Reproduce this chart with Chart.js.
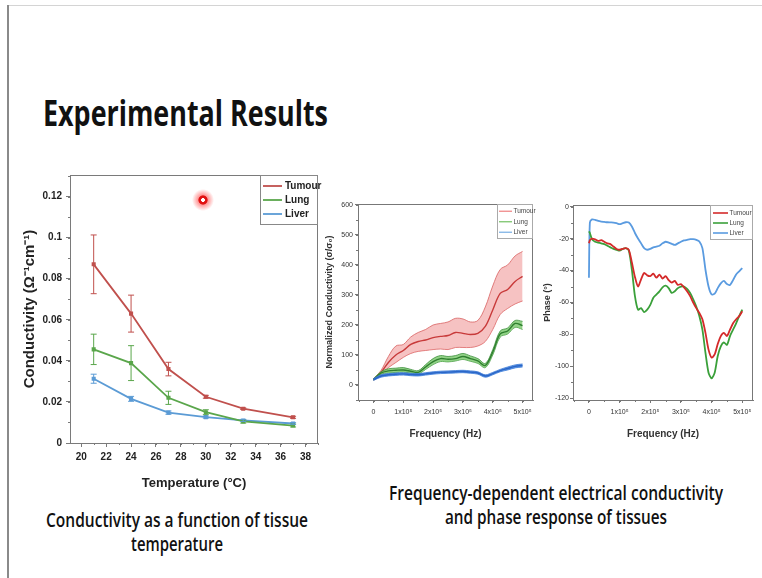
<!DOCTYPE html>
<html>
<head>
<meta charset="utf-8">
<script src="https://cdn.jsdelivr.net/npm/chart.js@4.4.0/dist/chart.umd.min.js"></script>
<style>
  html, body { margin: 0; padding: 0; background: #fff; }
  body { width: 762px; height: 578px; position: relative; overflow: hidden; font-family: "Open Sans", sans-serif; color: #111; }
  .edge-top { position: absolute; left: 8px; top: 5px; right: 0; height: 1px; background: #d4d4d4; }
  .edge-left { position: absolute; left: 7px; top: 5px; bottom: 0; width: 2px; background: #8a8a8a; }
  .txt { position: absolute; white-space: nowrap; line-height: 1; transform-origin: left top; }
  .title { font-size: 36px; font-weight: 700; }
  .cap { font-size: 19px; font-weight: 600; }
  .box { position: absolute; }
  .dot { position: absolute; left: 192px; top: 189px; width: 22px; height: 22px; border-radius: 50%;
         background: radial-gradient(circle, #fff 0 1.6px, #e01010 2.2px 4.2px, rgba(255,70,70,0.55) 5px, rgba(255,160,160,0) 11px); }
</style>
</head>
<body>
<div class="edge-top"></div>
<div class="edge-left"></div>

<div class="txt title" id="title" style="top:95px">Experimental Results</div>

<div class="box" style="left:10px; top:165px;"><canvas id="tempChart" width="320" height="330"></canvas></div>
<div class="box" style="left:320px; top:195px;"><canvas id="condChart" width="220" height="245"></canvas></div>
<div class="box" style="left:538px; top:195px;"><canvas id="phaseChart" width="224" height="245"></canvas></div>
<div class="dot"></div>

<div class="txt cap" id="cap1a" style="top:511px">Conductivity as a function of tissue</div>
<div class="txt cap" id="cap1b" style="top:535px">temperature</div>
<div class="txt cap" id="cap2a" style="top:484px">Frequency-dependent electrical conductivity</div>
<div class="txt cap" id="cap2b" style="top:508px">and phase response of tissues</div>

<script>
// ---- conductivity vs temperature ----
const tempC = [21, 24, 27, 30, 33, 37];
const tumourCond = [0.087, 0.063, 0.036, 0.0225, 0.0167, 0.0125];
const tumourErr = [0.0143, 0.009, 0.0033, 0.0007, 0.0004, 0.0005];
const lungCond = [0.0456, 0.0389, 0.022, 0.015, 0.0105, 0.0085];
const lungErr = [0.0074, 0.0085, 0.0032, 0.0012, 0.0008, 0.0007];
const liverCond = [0.0313, 0.0215, 0.0148, 0.0126, 0.011, 0.0095];
const liverErr = [0.0022, 0.0012, 0.0008, 0.0005, 0.0005, 0.0004];
const condTicks = [0, 0.02, 0.04, 0.06, 0.08, 0.1, 0.12];
const condTickLabels = ["0", "0.02", "0.04", "0.06", "0.08", "0.1", "0.12"];
const tempTicks = [20, 22, 24, 26, 28, 30, 32, 34, 36, 38];

// ---- normalized conductivity vs frequency ----
const condFreq = [0, 25000, 50000, 75000, 100000, 125000, 150000, 175000, 200000, 225000, 250000,
  275000, 300000, 325000, 350000, 375000, 400000, 425000, 450000, 475000, 500000];
const tumourNorm = [18, 42, 75, 100, 115, 135, 145, 150, 158, 162, 165, 175, 172, 168, 172, 195, 250, 305, 318, 345, 362];
const tumourNormHi = [20, 48, 95, 130, 135, 160, 175, 185, 200, 205, 210, 222, 220, 210, 215, 260, 330, 385, 400, 430, 445];
const tumourNormLo = [15, 36, 58, 75, 92, 105, 112, 115, 118, 120, 118, 125, 125, 125, 130, 145, 185, 235, 255, 270, 280];
const lungNorm = [18, 40, 47, 49, 50, 46, 42, 60, 78, 88, 86, 88, 95, 88, 80, 65, 110, 170, 180, 205, 198];
const lungNormHi = [20, 44, 54, 56, 58, 52, 48, 68, 88, 98, 95, 98, 105, 97, 88, 72, 118, 180, 190, 215, 212];
const lungNormLo = [16, 36, 40, 42, 43, 40, 37, 52, 68, 78, 77, 80, 85, 79, 72, 58, 100, 160, 170, 192, 185];
const liverNorm = [18, 30, 34, 36, 37, 35, 34, 37, 40, 42, 43, 44, 45, 43, 40, 30, 38, 48, 55, 62, 65];
const liverNormHi = [21, 34, 38, 40, 41, 39, 38, 41, 44, 46, 47, 48, 49, 47, 44, 34, 42, 52, 60, 67, 70];
const liverNormLo = [15, 26, 30, 32, 33, 31, 30, 33, 36, 38, 39, 40, 41, 39, 36, 26, 34, 44, 50, 57, 60];
const normTicks = [0, 100, 200, 300, 400, 500, 600];

// ---- phase vs frequency ----
const phaseFreq = [0, 3000, 10000, 20000, 30000, 40000, 50000, 60000, 70000, 80000, 90000,
  100000, 110000, 120000, 130000, 140000, 150000, 160000, 170000, 180000, 190000,
  200000, 210000, 220000, 230000, 240000, 250000, 260000, 270000, 280000, 290000,
  300000, 310000, 320000, 330000, 340000, 350000, 360000, 370000, 380000, 390000,
  400000, 410000, 420000, 430000, 440000, 450000, 460000, 470000, 480000, 490000, 500000];
const tumourPhase = [-23, -21, -20, -20.5, -21.5, -21, -22, -23, -23.5, -25, -26.5,
  -27, -26.5, -26, -27, -35, -44, -50, -45.5, -41.5, -43,
  -43.5, -42, -44.5, -42.5, -45, -43.5, -46, -47.5, -46.5, -49,
  -48.5, -50.5, -53, -56, -60, -63.5, -66.5, -70.5, -79, -89.5,
  -94.5, -92.5, -86, -81, -79, -81, -77, -73, -70.5, -68.5, -65.5];
const lungPhase = [-15.5, -16.5, -20.5, -22, -22.5, -23, -23.5, -24.5, -25.5, -26.5, -27,
  -27.5, -26.5, -26, -27.5, -39.5, -56, -64.5, -63.5, -66, -64.5,
  -61.5, -57, -55, -53, -50.5, -49.5, -51, -54, -53, -51,
  -50, -50, -51.5, -54, -58, -62.5, -68.5, -77, -91.5, -104,
  -107.5, -104, -93.5, -87.5, -85, -86.5, -81, -77, -73, -68.5, -64.5];
const liverPhase = [-44.5, -10, -8, -8.3, -9, -9.4, -9.6, -9.8, -9.9, -10, -10.4,
  -11, -10.4, -9.8, -10, -12.5, -16.5, -20, -23, -26, -27,
  -26.5, -25.5, -25, -24.5, -23, -22, -22.5, -23.3, -24, -23,
  -22, -21.2, -20.8, -20.4, -20.4, -20.8, -21.8, -26, -39.5, -50,
  -55, -54.5, -51, -48, -46.5, -48.5, -49, -46, -42.5, -40.5, -38.5];
const phaseTicks = [0, -20, -40, -60, -80, -100, -120];
const freqTicks = [0, 100000, 200000, 300000, 400000, 500000];
const freqTickLabels = ["0", "1x10⁵", "2x10⁵", "3x10⁵", "4x10⁵", "5x10⁵"];

const RED = "#c0504d", GREEN = "#5aa64b", BLUE = "#5b9bd5";
const NARROW = "'Liberation Sans Narrow', 'Arial Narrow', 'Liberation Sans', sans-serif";

function pts(xs, ys) {
  return xs.map((x, i) => ({ x: x, y: ys[i] }));
}

// error bars drawn from the y scale
const errorBarPlugin = {
  id: "errorBars",
  afterDatasetsDraw(chart) {
    const ctx = chart.ctx;
    const yScale = chart.scales.y;
    chart.data.datasets.forEach((ds, i) => {
      if (!ds.errorBars) return;
      const meta = chart.getDatasetMeta(i);
      ctx.save();
      ctx.strokeStyle = ds.borderColor;
      ctx.lineWidth = 1;
      meta.data.forEach((pt, j) => {
        const v = ds.data[j].y;
        const e = ds.errorBars[j];
        const yt = yScale.getPixelForValue(v + e);
        const yb = yScale.getPixelForValue(v - e);
        ctx.beginPath();
        ctx.moveTo(pt.x, yt); ctx.lineTo(pt.x, yb);
        ctx.moveTo(pt.x - 3, yt); ctx.lineTo(pt.x + 3, yt);
        ctx.moveTo(pt.x - 3, yb); ctx.lineTo(pt.x + 3, yb);
        ctx.stroke();
      });
      ctx.restore();
    });
  }
};

// box around the plot plus minor ticks
const framePlugin = {
  id: "frame",
  afterDraw(chart, args, o) {
    const { ctx, chartArea: a, scales } = chart;
    ctx.save();
    ctx.strokeStyle = o.color;
    ctx.lineWidth = 1;
    ctx.strokeRect(a.left + 0.5, a.top + 0.5, a.right - a.left - 1, a.bottom - a.top);
    ctx.beginPath();
    const xs = scales.x, ys = scales.y;
    for (let v = Math.ceil(xs.min / o.xMinor) * o.xMinor; v <= xs.max; v += o.xMinor) {
      const px = Math.round(xs.getPixelForValue(v)) + 0.5;
      ctx.moveTo(px, a.bottom); ctx.lineTo(px, a.bottom + o.minorLen);
    }
    for (let v = Math.ceil(ys.min / o.yMinor) * o.yMinor; v <= ys.max; v += o.yMinor) {
      const py = Math.round(ys.getPixelForValue(v)) + 0.5;
      ctx.moveTo(a.left, py); ctx.lineTo(a.left - o.minorLen, py);
    }
    ctx.stroke();
    ctx.restore();
  }
};

// boxed legend in the top right corner of the plot
const boxLegendPlugin = {
  id: "boxLegend",
  afterDraw(chart, args, o) {
    const { ctx, chartArea: a } = chart;
    const items = chart.data.datasets.filter(d => d.legendColor);
    const x0 = a.right - o.width;
    const y0 = a.top;
    const h = o.padTop + items.length * o.row + o.padBottom;
    ctx.save();
    ctx.fillStyle = "#fff";
    ctx.fillRect(x0, y0, o.width, h);
    ctx.strokeStyle = o.border;
    ctx.lineWidth = 1;
    ctx.strokeRect(x0 + 0.5, y0 + 0.5, o.width - 1, h);
    ctx.font = o.font;
    ctx.textBaseline = "middle";
    items.forEach((d, k) => {
      const yy = y0 + o.padTop + o.row * (k + 0.5);
      ctx.strokeStyle = d.legendColor;
      ctx.lineWidth = o.lineWidth;
      ctx.beginPath();
      ctx.moveTo(x0 + o.lineStart, yy);
      ctx.lineTo(x0 + o.lineStart + o.lineLen, yy);
      ctx.stroke();
      ctx.fillStyle = o.textColor;
      ctx.fillText(d.label, x0 + o.lineStart + o.lineLen + o.gap, yy);
    });
    ctx.restore();
  }
};

function fixedTicks(values) {
  return (scale) => { scale.ticks = values.map(v => ({ value: v })); };
}

// ---------- chart 1 ----------
function tempSeries(label, color, ys, errs) {
  return {
    label: label,
    data: pts(tempC, ys),
    errorBars: errs,
    legendColor: color,
    borderColor: color,
    backgroundColor: color,
    borderWidth: 1.8,
    pointRadius: 1.6,
    pointStyle: "rect",
    tension: 0
  };
}

new Chart(document.getElementById("tempChart"), {
  type: "line",
  data: {
    datasets: [
      tempSeries("Tumour", RED, tumourCond, tumourErr),
      tempSeries("Lung", GREEN, lungCond, lungErr),
      tempSeries("Liver", BLUE, liverCond, liverErr)
    ]
  },
  plugins: [errorBarPlugin, framePlugin, boxLegendPlugin],
  options: {
    responsive: false,
    animation: false,
    layout: { padding: { left: 0, top: 9, right: 12, bottom: 0 } },
    plugins: {
      legend: { display: false },
      tooltip: { enabled: false },
      frame: { color: "#7a7a7a", xMinor: 1, yMinor: 0.01, minorLen: 2 },
      boxLegend: {
        width: 58, padTop: 4, row: 14, padBottom: 3, lineStart: 3, lineLen: 19, gap: 3,
        lineWidth: 1.8, border: "#888", textColor: "#222",
        font: "bold 10px " + NARROW
      }
    },
    scales: {
      x: {
        type: "linear",
        min: 19.1,
        max: 39,
        afterBuildTicks: fixedTicks(tempTicks),
        afterFit: (s) => { s.height = 52; },
        grid: { drawOnChartArea: false, drawTicks: true, tickLength: 4, color: "#7a7a7a" },
        border: { color: "#7a7a7a" },
        ticks: { color: "#222", padding: 4, maxRotation: 0, font: { family: NARROW, size: 10, weight: "bold" } },
        title: { display: true, text: "Temperature (°C)", color: "#222", padding: { top: 0, bottom: 4 },
                 font: { family: NARROW, size: 13, weight: "bold" } }
      },
      y: {
        type: "linear",
        min: 0,
        max: 0.1305,
        afterBuildTicks: fixedTicks(condTicks),
        afterFit: (s) => { s.width = 60; },
        grid: { drawOnChartArea: false, drawTicks: true, tickLength: 4, color: "#7a7a7a" },
        border: { color: "#7a7a7a" },
        ticks: { color: "#222", padding: 4, callback: (v, i) => condTickLabels[i],
                 font: { family: NARROW, size: 10, weight: "bold" } },
        title: { display: true, text: "Conductivity (Ω⁻¹cm⁻¹)", color: "#222", padding: { top: 11, bottom: 0 },
                 font: { family: NARROW, size: 15, weight: "bold" } }
      }
    }
  }
});

// ---------- chart 2 ----------
function bandSeries(label, mean, hi, lo, lineColor, edgeColor, fillColor, legendColor, order) {
  return [
    { label: label, data: pts(condFreq, mean), legendColor: legendColor, borderColor: lineColor,
      borderWidth: 1.4, pointRadius: 0, tension: 0.35, fill: false, order: order },
    { label: label + " +", data: pts(condFreq, hi), borderColor: edgeColor, backgroundColor: fillColor,
      borderWidth: 0.8, pointRadius: 0, tension: 0.35, fill: "+1", order: order + 0.5 },
    { label: label + " -", data: pts(condFreq, lo), borderColor: edgeColor,
      borderWidth: 0.8, pointRadius: 0, tension: 0.35, fill: false, order: order + 0.5 }
  ];
}

const smallFont = { family: NARROW, size: 7 };
const freqX = (height) => ({
  type: "linear",
  min: -52000,
  max: 535000,
  afterBuildTicks: fixedTicks(freqTicks),
  afterFit: (s) => { s.height = height; },
  grid: { drawOnChartArea: false, drawTicks: true, tickLength: 3, color: "#777" },
  border: { color: "#777" },
  ticks: { color: "#333", padding: 5, maxRotation: 0, autoSkip: false, callback: (v, i) => freqTickLabels[i], font: smallFont },
  title: { display: true, text: "Frequency (Hz)", color: "#333", padding: { top: 0, bottom: 0 },
           font: { family: NARROW, size: 10, weight: "bold" } }
});

new Chart(document.getElementById("condChart"), {
  type: "line",
  data: {
    datasets: [
      ...bandSeries("Tumour", tumourNorm, tumourNormHi, tumourNormLo, "#c83a3a", "#d86060", "rgba(236,120,120,0.45)", "#f08a8a", 30),
      ...bandSeries("Lung", lungNorm, lungNormHi, lungNormLo, "#2f7f2f", "#3c8f3c", "rgba(110,195,95,0.75)", "#7cc46c", 20),
      ...bandSeries("Liver", liverNorm, liverNormHi, liverNormLo, "#2a66c8", "#3a78d4", "rgba(70,135,225,0.85)", "#80b4e6", 10)
    ]
  },
  plugins: [framePlugin, boxLegendPlugin],
  options: {
    responsive: false,
    animation: false,
    layout: { padding: { left: 0, top: 9, right: 7, bottom: 0 } },
    plugins: {
      legend: { display: false },
      tooltip: { enabled: false },
      frame: { color: "#777", xMinor: 50000, yMinor: 50, minorLen: 2 },
      boxLegend: {
        width: 36, padTop: 2, row: 10.5, padBottom: 0.5, lineStart: 2, lineLen: 13, gap: 1.5,
        lineWidth: 1.3, border: "#aaa", textColor: "#444", font: "6.5px " + NARROW
      }
    },
    scales: {
      x: freqX(40),
      y: {
        type: "linear",
        min: -50,
        max: 603,
        afterBuildTicks: fixedTicks(normTicks),
        afterFit: (s) => { s.width = 38; },
        grid: { drawOnChartArea: false, drawTicks: true, tickLength: 3, color: "#777" },
        border: { color: "#777" },
        ticks: { color: "#333", padding: 2, font: smallFont },
        title: { display: true, text: "Normalized Conductivity (σ/σ₀)", color: "#333", padding: { top: 4, bottom: 0 },
                 font: { family: NARROW, size: 9, weight: "bold" } }
      }
    }
  }
});

// ---------- chart 3 ----------
function phaseSeries(label, ys, color) {
  return { label: label, data: pts(phaseFreq, ys), legendColor: color, borderColor: color,
           borderWidth: 1.8, pointRadius: 0, tension: 0.25, fill: false };
}

new Chart(document.getElementById("phaseChart"), {
  type: "line",
  data: {
    datasets: [
      phaseSeries("Tumour", tumourPhase, "#d42a2a"),
      phaseSeries("Lung", lungPhase, "#3aa03a"),
      phaseSeries("Liver", liverPhase, "#5a9be0")
    ]
  },
  plugins: [framePlugin, boxLegendPlugin],
  options: {
    responsive: false,
    animation: false,
    layout: { padding: { left: 0, top: 10, right: 9, bottom: 0 } },
    plugins: {
      legend: { display: false },
      tooltip: { enabled: false },
      frame: { color: "#777", xMinor: 50000, yMinor: 10, minorLen: 2 },
      boxLegend: {
        width: 43, padTop: 3, row: 10, padBottom: 1, lineStart: 3, lineLen: 15, gap: 1.5,
        lineWidth: 1.6, border: "#aaa", textColor: "#444", font: "6.5px " + NARROW
      }
    },
    scales: {
      x: freqX(40),
      y: {
        type: "linear",
        min: -121,
        max: 1,
        afterBuildTicks: fixedTicks(phaseTicks),
        afterFit: (s) => { s.width = 35; },
        grid: { drawOnChartArea: false, drawTicks: true, tickLength: 3, color: "#777" },
        border: { color: "#777" },
        ticks: { color: "#333", padding: 1, font: smallFont },
        title: { display: true, text: "Phase (°)", color: "#333", padding: { top: 4, bottom: 0 },
                 font: { family: NARROW, size: 9, weight: "bold" } }
      }
    }
  }
});

// squeeze slide texts to the widths seen on the slide
function fitText(id, left, width) {
  const el = document.getElementById(id);
  const w = el.getBoundingClientRect().width;
  el.style.transform = "scaleX(" + (width / w) + ")";
  el.style.left = left + "px";
}
function fitCenter(id, cx, width) {
  fitText(id, cx - width / 2, width);
}
fitText("title", 43, 285);
fitCenter("cap1a", 177, 262);
fitCenter("cap1b", 177, 92);
fitCenter("cap2a", 556, 334);
fitCenter("cap2b", 556, 222);
</script>
</body>
</html>
